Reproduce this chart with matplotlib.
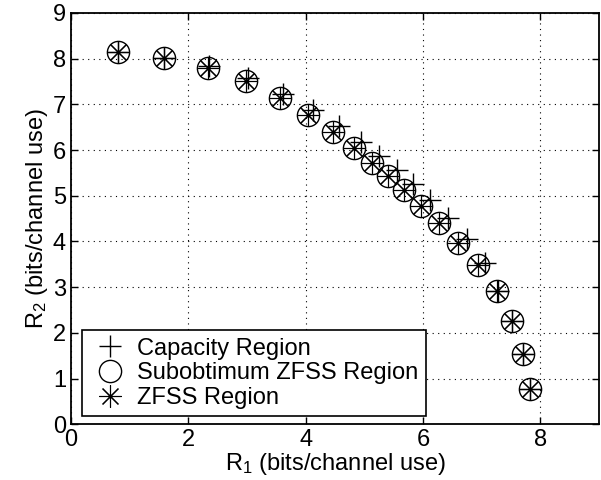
import matplotlib
matplotlib.use("Agg")
import matplotlib.pyplot as plt

plt.rcParams['font.family'] = ['Liberation Sans', 'DejaVu Sans']
plt.rcParams['mathtext.fontset'] = 'custom'
plt.rcParams['mathtext.rm'] = 'Liberation Sans'
plt.rcParams['mathtext.it'] = 'Liberation Sans'
plt.rcParams['mathtext.default'] = 'regular'

# ZFSS / suboptimum ZFSS points (coincide)
zfss_r1 = [0.81, 1.59, 2.33, 2.99, 3.56, 4.04, 4.46, 4.82, 5.13, 5.41, 5.68, 5.96, 6.27, 6.60, 6.94, 7.26, 7.52, 7.71, 7.82]
zfss_r2 = [8.14, 8.01, 7.80, 7.52, 7.13, 6.77, 6.40, 6.05, 5.72, 5.43, 5.13, 4.78, 4.40, 3.97, 3.49, 2.92, 2.26, 1.54, 0.77]
sub_r1 = zfss_r1
sub_r2 = zfss_r2
# Capacity region points
cap_r1 = [0.81, 1.59, 2.35, 3.01, 3.61, 4.12, 4.57, 4.94, 5.25, 5.55, 5.83, 6.12, 6.43, 6.74, 7.05, 7.28, 7.52, 7.71, 7.82]
cap_r2 = [8.14, 8.01, 7.83, 7.57, 7.22, 6.88, 6.53, 6.18, 5.86, 5.56, 5.25, 4.91, 4.52, 4.05, 3.53, 2.92, 2.26, 1.54, 0.77]

fig = plt.figure(figsize=(6.01, 4.8), dpi=100)
ax = fig.add_axes([0.118, 0.116, 0.879, 0.857])

fs = 17
ms = 16
ax.plot(cap_r1, cap_r2, linestyle='none', marker='+', markersize=ms, color='black',
        markeredgewidth=1.0, label='Capacity Region')
ax.plot(sub_r1, sub_r2, linestyle='none', marker='o', markersize=ms, markerfacecolor='none',
        markeredgecolor='black', markeredgewidth=1.0, label='Subobtimum ZFSS Region')
ax.plot(zfss_r1, zfss_r2, linestyle='none', marker=(8, 2, 0), markersize=ms, color='black',
        markeredgewidth=0.8, label='ZFSS Region')

ax.set_xlim(0, 9)
ax.set_ylim(0, 9)
ax.set_xticks([0, 2, 4, 6, 8])
ax.set_yticks(range(10))
ax.grid(True, linestyle=(0, (1, 4)), color='black', linewidth=0.8)
ax.tick_params(direction='in', top=True, right=True, labelsize=fs, length=5, width=1.0)
for s in ax.spines.values():
    s.set_linewidth(1.3)

ax.set_xlabel('R$_{1}$ (bits/channel use)', fontsize=fs, labelpad=0)
ax.set_ylabel('R$_{2}$ (bits/channel use)', fontsize=fs, labelpad=2)

leg = ax.legend(loc='lower left', bbox_to_anchor=(11 / 528, 8 / 411), fontsize=fs,
                frameon=True, fancybox=False,
                borderaxespad=0, handletextpad=0.3, labelspacing=0.12,
                handlelength=1.75, borderpad=0.3)
leg.get_frame().set_edgecolor('black')
leg.get_frame().set_linewidth(1.2)
leg.get_frame().set_alpha(1)

fig.savefig('out.png', dpi=100)
